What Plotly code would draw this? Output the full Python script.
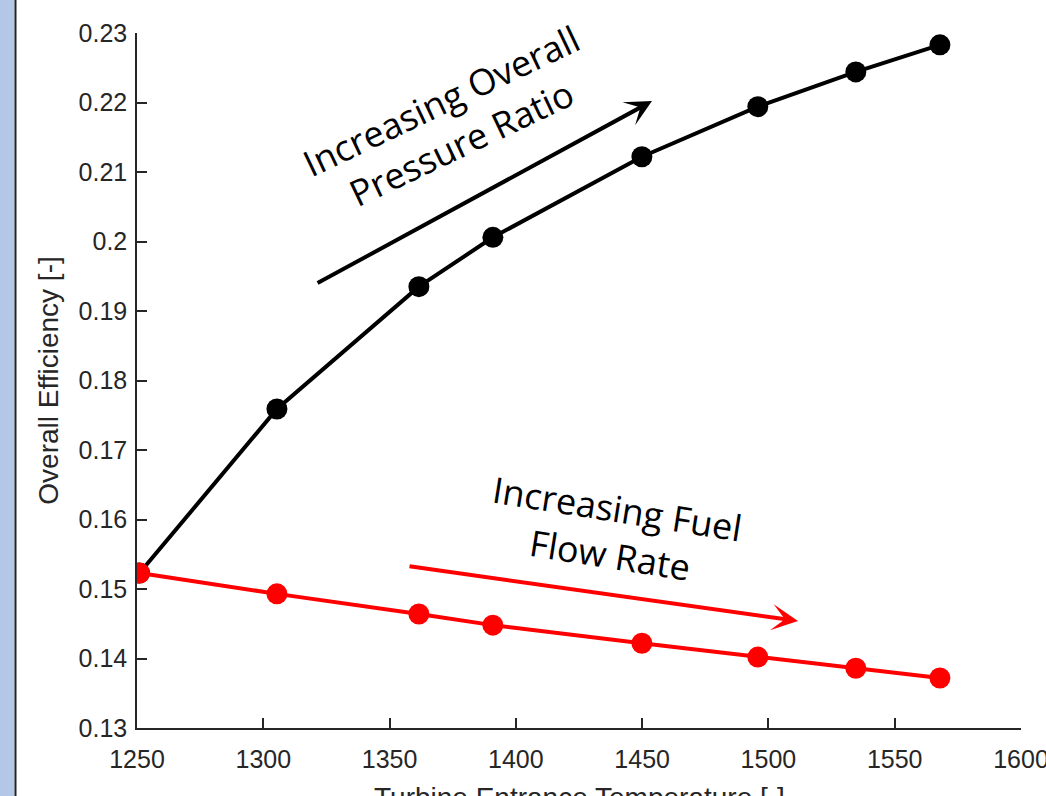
import plotly.graph_objects as go

# Data
temp = [1251, 1305.4, 1361.6, 1390.9, 1449.9, 1495.8, 1534.6, 1567.9]
eff_pressure = [0.1523, 0.1759, 0.1935, 0.2006, 0.2122, 0.2194, 0.2244, 0.2283]
eff_fuel = [0.1523, 0.1493, 0.1464, 0.1448, 0.1422, 0.1402, 0.1386, 0.1372]

x_ticks = [1250, 1300, 1350, 1400, 1450, 1500, 1550, 1600]
y_ticks = [0.13, 0.14, 0.15, 0.16, 0.17, 0.18, 0.19, 0.20, 0.21, 0.22, 0.23]
y_tick_text = ["0.13", "0.14", "0.15", "0.16", "0.17", "0.18", "0.19", "0.2", "0.21", "0.22", "0.23"]

# Annotation arrows (tail -> head) and labels
arrow_pr = dict(tail=(1320.9, 0.1939), head=(1453.9, 0.2202))
arrow_ff = dict(tail=(1357.3, 0.1533), head=(1511.7, 0.1454))
label_pr = dict(text="Increasing Overall<br>Pressure Ratio", pos=(1374.5, 0.2172), angle=-25.5)
label_ff = dict(text="Increasing Fuel<br>Flow Rate", pos=(1439.0, 0.1582), angle=9)

AX = "#262626"

fig = go.Figure()
fig.add_trace(go.Scatter(x=temp, y=eff_pressure, mode="lines+markers",
                         line=dict(color="black", width=4),
                         marker=dict(color="black", size=21), showlegend=False))
fig.add_trace(go.Scatter(x=temp, y=eff_fuel, mode="lines+markers",
                         line=dict(color="#FF0000", width=4),
                         marker=dict(color="#FF0000", size=21), showlegend=False))

annotations = []
for arr, col in ((arrow_pr, "black"), (arrow_ff, "#FF0000")):
    annotations.append(dict(x=arr["head"][0], y=arr["head"][1], ax=arr["tail"][0], ay=arr["tail"][1],
                            xref="x", yref="y", axref="x", ayref="y", text="",
                            showarrow=True, arrowhead=3, arrowsize=1.1, arrowwidth=4,
                            arrowcolor=col, standoff=0, startstandoff=0))
for lab in (label_pr, label_ff):
    annotations.append(dict(x=lab["pos"][0], y=lab["pos"][1], xref="x", yref="y",
                            text=lab["text"], textangle=lab["angle"], showarrow=False,
                            font=dict(family="Open Sans", size=36, color="black"),
                            xanchor="center", yanchor="middle"))
annotations.append(dict(x=0.5, y=0, xref="paper", yref="paper", yshift=-52,
                        text="Turbine Entrance Temperature [-]", showarrow=False,
                        font=dict(family="Liberation Sans, Arial", size=28, color=AX),
                        xanchor="center", yanchor="top"))

PW = 884.0
shapes = [
    dict(type="rect", xref="paper", yref="paper", x0=-137 / PW, x1=-122.5 / PW, y0=-1, y1=2,
         fillcolor="#B4C7E7", line=dict(width=0), layer="below"),
    dict(type="line", xref="paper", yref="paper", x0=-121.5 / PW, x1=-121.5 / PW, y0=-1, y1=2,
         line=dict(color="#222222", width=2)),
]

fig.update_layout(
    width=1046, height=796, autosize=False,
    margin=dict(l=137, r=25, t=33, b=68),
    paper_bgcolor="white", plot_bgcolor="white",
    font=dict(family="Liberation Sans, Arial", color=AX),
    annotations=annotations, shapes=shapes,
    xaxis=dict(range=[1250, 1600], tickvals=x_ticks, showgrid=False, zeroline=False,
               showline=True, linecolor=AX, linewidth=1.5, ticks="inside", ticklen=10,
               tickcolor=AX, tickwidth=1.5, tickfont=dict(size=25, color=AX),
               ticklabelstandoff=8, ticklabeloverflow="allow", automargin=False),
    yaxis=dict(range=[0.13, 0.23], tickvals=y_ticks, ticktext=y_tick_text, showgrid=False,
               zeroline=False, showline=True, linecolor=AX, linewidth=1.5, ticks="inside",
               ticklen=10, tickcolor=AX, tickwidth=1.5, tickfont=dict(size=25, color=AX),
               ticklabelstandoff=3, ticklabeloverflow="allow", automargin=False,
               title=dict(text="Overall Efficiency [-]", font=dict(size=28, color=AX), standoff=12)),
)

fig.write_html(
    "out.html",
    config={"displayModeBar": False, "responsive": False},
    post_script=("document.documentElement.style.overflow='hidden';"
                 "document.body.style.overflow='hidden';"
                 "document.body.style.margin='0';"),
)
